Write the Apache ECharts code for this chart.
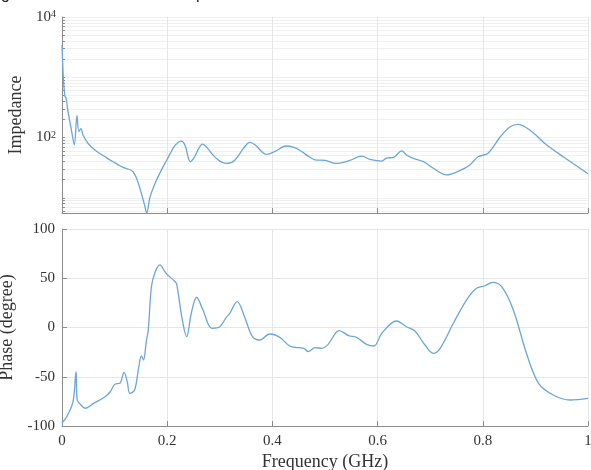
<!DOCTYPE html>
<html>
<head>
<meta charset="utf-8">
<script src="https://cdn.jsdelivr.net/npm/echarts@6/dist/echarts.min.js"></script>
<style>html,body{margin:0;padding:0;background:#fff}#c{width:591px;height:470px}</style>
</head>
<body>
<div id="c"></div>
<script>
// Frequency (GHz) and impedance (log scale)
const freqImp = [0.000,0.001,0.0025,0.0048,0.0057,0.0076,0.012,0.018,0.0234,0.0285,0.032,0.036,0.040,0.050,0.065,0.082,0.092,0.101,0.110,0.120,0.129,0.135,0.142,0.150,0.157,0.161,0.167,0.175,0.186,0.200,0.208,0.216,0.227,0.234,0.244,0.252,0.260,0.267,0.275,0.287,0.300,0.313,0.328,0.345,0.357,0.367,0.389,0.405,0.426,0.440,0.452,0.470,0.481,0.500,0.522,0.547,0.570,0.585,0.608,0.617,0.630,0.646,0.655,0.667,0.687,0.706,0.731,0.756,0.776,0.791,0.810,0.833,0.852,0.867,0.890,0.921,0.953,1.000];
const impedance = [3388,1995,1000,537,479,457,251,132,76,234,126,141,110,79,60,48,42,38,34,31,29.5,27,21,12.6,7.6,5.6,10,15.8,25.7,43.6,58.9,75.9,87.1,74.1,39.8,47.9,66.1,77.6,69.2,51.3,40.7,37.2,41.7,66.1,83.2,75.9,52.5,58.9,72.4,69.2,61.7,47.9,42.7,41.7,37.2,41.7,49,43.6,40.7,45.7,46.8,60.3,51.3,45.7,39.8,30.9,24,28.2,35.5,47.9,55,102,151,166,132,75.9,47.9,25.1];
// Frequency (GHz) and phase (degree)
const freqPhase = [0.000,0.009,0.021,0.0266,0.029,0.035,0.044,0.060,0.082,0.092,0.101,0.110,0.118,0.124,0.129,0.138,0.146,0.151,0.155,0.160,0.164,0.170,0.177,0.186,0.198,0.214,0.218,0.228,0.237,0.246,0.256,0.268,0.285,0.300,0.312,0.319,0.333,0.347,0.362,0.376,0.395,0.414,0.433,0.449,0.460,0.468,0.481,0.494,0.506,0.527,0.545,0.560,0.579,0.593,0.608,0.636,0.655,0.671,0.690,0.706,0.719,0.744,0.769,0.788,0.804,0.819,0.836,0.858,0.883,0.906,0.934,0.966,1.000];
const phase = [-97,-90.6,-75.3,-44.9,-73.6,-78,-82,-77,-70.3,-65,-57.4,-56.7,-45.5,-55,-66.8,-63.5,-40,-28.9,-33,-15,-2.5,41.4,56,63.5,55,47,44,10,-9.3,15,30.7,17.8,-0.8,0.8,10,14.4,26.2,11.0,-9.3,-12.7,-6.6,-10,-18.8,-20.5,-21.1,-24.5,-20.5,-21.1,-17.1,-3.2,-8.3,-10,-17.1,-18.8,-5.9,6.6,0.8,-3.6,-17.8,-26.2,-21.1,4.3,27.9,39.8,42.4,45.9,41.4,17.8,-26.2,-56.7,-68.5,-73.6,-71.9];
const impLabelTicks = [100, 10000];
const impMinorTicks = [6,7,8,9,10,20,30,40,50,60,70,80,90,100,200,300,400,500,600,700,800,900,1000,2000,3000,4000,5000,6000,7000,8000,9000,10000];

const FONT = '"Liberation Serif","Times New Roman",serif';
const AXIS = '#8c8c8c';
const TXT = '#333';
const LINE = '#6aa6d8';
const GRID = '#e6e6e6';

const chart = echarts.init(document.getElementById('c'), null, {renderer: 'canvas'});
const impData = freqImp.map((f, i) => [f, impedance[i]]);
const phData = freqPhase.map((f, i) => [f, phase[i]]);

const xBase = (show, name) => ({
  type: 'value', min: 0, max: 1, interval: 0.2,
  axisLine: {show: true, onZero: false, lineStyle: {color: AXIS, width: 1}},
  axisTick: {show: true, inside: true, length: 5, lineStyle: {color: AXIS}},
  axisLabel: {show: show, color: TXT, fontFamily: FONT, fontSize: 15, margin: 8,
    formatter: v => (v === 0 ? '0' : v === 1 ? '1' : v.toFixed(1))},
  splitLine: {show: true, lineStyle: {color: GRID, width: 1}},
  name: name, nameLocation: 'middle', nameGap: 27,
  nameTextStyle: {color: TXT, fontFamily: FONT, fontSize: 18}
});

chart.setOption({
  animation: false,
  backgroundColor: '#fff',
  graphic: [
    {type: 'text', left: 1, top: -13, style: {text: 'g', font: '16px "Liberation Sans", Arial', fill: '#222'}},
    {type: 'text', left: 196, top: -13, style: {text: 'p', font: '16px "Liberation Sans", Arial', fill: '#222'}}
  ],
  grid: [
    {left: 62, right: 3, top: 17, height: 196, containLabel: false, outerBoundsMode: 'none'},
    {left: 62, right: 3, top: 229, height: 197, containLabel: false, outerBoundsMode: 'none'}
  ],
  xAxis: [
    Object.assign(xBase(false, ''), {gridIndex: 0}),
    Object.assign(xBase(true, 'Frequency (GHz)'), {gridIndex: 1})
  ],
  yAxis: [
    {
      gridIndex: 0, type: 'log', logBase: 10, min: 5.6, max: 10000,
      axisLine: {show: true, onZero: false, lineStyle: {color: AXIS}},
      axisTick: {show: true, inside: true, length: 3, customValues: impMinorTicks, lineStyle: {color: AXIS}},
      axisLabel: {
        show: true, customValues: impLabelTicks, margin: 6,
        formatter: v => '{b|10}{s|' + Math.round(Math.log10(v)) + '}',
        rich: {
          b: {fontFamily: FONT, fontSize: 15, color: TXT},
          s: {fontFamily: FONT, fontSize: 10, color: TXT, verticalAlign: 'top'}
        }
      },
      splitLine: {show: true, lineStyle: {color: '#f0f0f0', width: 1}},
      name: 'Impedance', nameLocation: 'middle', nameRotate: 90, nameGap: 37,
      nameTextStyle: {color: TXT, fontFamily: FONT, fontSize: 18}
    },
    {
      gridIndex: 1, type: 'value', min: -100, max: 100, interval: 50,
      axisLine: {show: true, onZero: false, lineStyle: {color: AXIS}},
      axisTick: {show: true, inside: true, length: 5, lineStyle: {color: AXIS}},
      axisLabel: {show: true, color: TXT, fontFamily: FONT, fontSize: 15, margin: 7},
      splitLine: {show: true, lineStyle: {color: GRID, width: 1}},
      name: 'Phase (degree)', nameLocation: 'middle', nameRotate: 90, nameGap: 37,
      nameTextStyle: {color: TXT, fontFamily: FONT, fontSize: 18}
    }
  ],
  series: [
    {type: 'line', xAxisIndex: 0, yAxisIndex: 0, data: impData, showSymbol: false,
     smooth: 0.35, clip: true, lineStyle: {color: LINE, width: 1.3}, itemStyle: {color: LINE}},
    {type: 'line', xAxisIndex: 1, yAxisIndex: 1, data: phData, showSymbol: false,
     smooth: 0.35, clip: true, lineStyle: {color: LINE, width: 1.3}, itemStyle: {color: LINE}}
  ]
});
</script>
</body>
</html>
